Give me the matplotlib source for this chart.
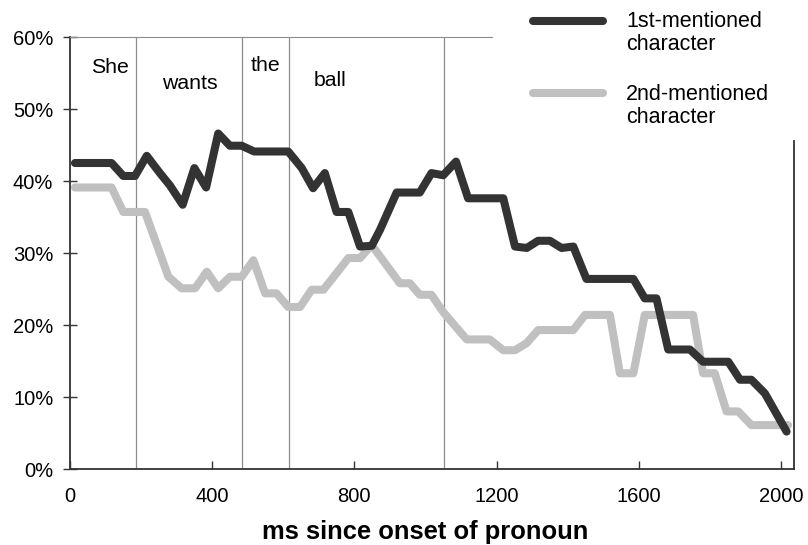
import matplotlib.pyplot as plt
from matplotlib.lines import Line2D
from matplotlib.ticker import FuncFormatter

plt.rcParams['font.family'] = ['Liberation Sans', 'DejaVu Sans']

# ms since onset of pronoun / percent of looks
first_ms = [14, 117, 150, 183, 216, 253, 281, 317, 350, 383, 417, 450, 483, 518,
            614, 652, 684, 717, 750, 783, 816, 849, 872, 919, 984, 1017, 1050, 1086,
            1120, 1219, 1252, 1285, 1317, 1350, 1383, 1416, 1453, 1585, 1617, 1650,
            1683, 1744, 1781, 1852, 1885, 1917, 1955, 2016]
first_pct = [42.5, 42.5, 40.7, 40.7, 43.5, 41.1, 39.4, 36.7, 41.8, 39.1, 46.6, 44.9, 44.9, 44.1,
             44.1, 41.8, 39.0, 41.1, 35.7, 35.7, 30.9, 31.0, 33.2, 38.4, 38.4, 41.1, 40.8, 42.7,
             37.6, 37.6, 30.9, 30.7, 31.7, 31.7, 30.7, 30.9, 26.4, 26.4, 23.7, 23.7,
             16.6, 16.6, 14.9, 14.9, 12.4, 12.4, 10.5, 5.2]

second_ms = [14, 117, 150, 211, 277, 314, 352, 385, 417, 450, 483, 516, 549, 581,
             614, 647, 680, 713, 750, 783, 816, 849, 928, 956, 984, 1017, 1050, 1116,
             1181, 1219, 1252, 1285, 1317, 1416, 1449, 1519, 1547, 1585, 1617, 1753,
             1781, 1814, 1847, 1880, 1917, 2020]
second_pct = [39.1, 39.1, 35.7, 35.7, 26.7, 25.1, 25.1, 27.4, 25.1, 26.7, 26.7, 29.0, 24.4, 24.4,
              22.5, 22.5, 24.9, 24.9, 27.2, 29.3, 29.3, 31.1, 25.8, 25.8, 24.2, 24.2, 21.8, 18.0,
              18.0, 16.5, 16.5, 17.5, 19.3, 19.3, 21.4, 21.4, 13.3, 13.3, 21.4, 21.4,
              13.3, 13.3, 8.0, 8.0, 6.1, 6.1]

word_onsets = [185, 485, 616, 1051]
words = ['She', 'wants', 'the', 'ball']
word_ms = [113, 338, 551, 731]
word_pct = [55.8, 53.6, 56.1, 54.0]

fig = plt.figure(figsize=(8.08, 5.45), dpi=100)
ax = fig.add_axes([0.0866, 0.1394, 0.8957, 0.7927])

for x in word_onsets:
    ax.axvline(x, color='#8c8c8c', lw=0.9, zorder=1)

ax.plot(second_ms, second_pct, color='#c0c0c0', lw=5.8, solid_capstyle='round',
        solid_joinstyle='round', zorder=3)
ax.plot(first_ms, first_pct, color='#333333', lw=5.8, solid_capstyle='round',
        solid_joinstyle='round', zorder=4)

for w, x, y in zip(words, word_ms, word_pct):
    ax.text(x, y, w, ha='center', va='center', fontsize=15.3)

ax.set_xlim(0, 2036)
ax.set_ylim(0, 60)
ax.set_xticks([0, 400, 800, 1200, 1600, 2000])
ax.set_yticks(range(0, 61, 10))
ax.yaxis.set_major_formatter(FuncFormatter(lambda v, p: '%d%%' % v))

ax.spines['top'].set_bounds(0, 1186)
ax.spines['top'].set_color('#8c8c8c')
ax.spines['right'].set_bounds(0, 45.6)
for s in ['left', 'bottom', 'right']:
    ax.spines[s].set_color('#333333')
    ax.spines[s].set_linewidth(1.3)

ax.tick_params(axis='y', direction='inout', length=10, width=1, pad=7,
               labelsize=14.5, color='#333333')
ax.tick_params(axis='x', direction='in', length=6, width=1, pad=13,
               labelsize=14.5, color='#333333')

fig.text(425 / 808, 1 - 532 / 545, 'ms since onset of pronoun', ha='center',
         va='center', fontsize=18.4, fontweight='bold')

# legend drawn by hand so the line sits on the first text line
fig.add_artist(Line2D([532.7 / 808, 603.3 / 808], [1 - 20.7 / 545] * 2,
                      color='#333333', lw=5.8, solid_capstyle='round'))
fig.add_artist(Line2D([532.7 / 808, 603.3 / 808], [1 - 93 / 545] * 2,
                      color='#c0c0c0', lw=5.8, solid_capstyle='round'))
fig.text(626 / 808, 1 - 11 / 545, '1st-mentioned\ncharacter', ha='left', va='top',
         fontsize=15.5, linespacing=1.12)
fig.text(626 / 808, 1 - 84 / 545, '2nd-mentioned\ncharacter', ha='left', va='top',
         fontsize=15.5, linespacing=1.12)

fig.savefig('out.png', dpi=100)
